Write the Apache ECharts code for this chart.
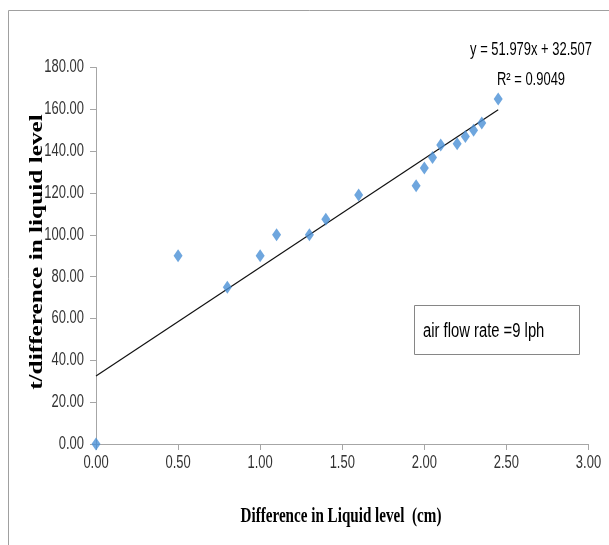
<!DOCTYPE html>
<html>
<head>
<meta charset="utf-8">
<script src="https://cdn.jsdelivr.net/npm/echarts@6/dist/echarts.min.js"></script>
<style>html,body{margin:0;padding:0;background:#fff;}#c{width:609px;height:545px;}</style>
</head>
<body>
<div id="c"></div>
<script>
var xValues = [0, 0.5, 0.8, 1.0, 1.1, 1.3, 1.4, 1.6, 1.95, 2.0, 2.05, 2.1, 2.2, 2.25, 2.3, 2.35, 2.45];
var yValues = [0, 90, 75, 90, 100, 100, 107.5, 119, 123.5, 132, 137, 143, 143.5, 147, 150, 153.5, 165];
var trendSlope = 51.979;
var trendIntercept = 32.507;
var equationText = 'y = 51.979x + 32.507';
var r2Text = 'R² = 0.9049';
var boxText = 'air flow rate =9 lph';
var xTitle = 'Difference in Liquid level  (cm)';
var yTitle = 't/difference in liquid level';

var points = xValues.map(function (x, i) { return [x, yValues[i]]; });
var xMin = Math.min.apply(null, xValues), xMax = Math.max.apply(null, xValues);
var trend = [[xMin, trendSlope * xMin + trendIntercept], [xMax, trendSlope * xMax + trendIntercept]];

var sans = '"Liberation Sans", Arial, sans-serif';
var chart = echarts.init(document.getElementById('c'), null, {renderer: 'canvas'});
chart.setOption({
  animation: false,
  backgroundColor: '#fff',
  grid: {left: 96, right: 20, top: 67.5, bottom: 101, containLabel: false},
  xAxis: {
    type: 'value', min: 0, max: 3, interval: 0.5,
    axisLine: {show: true, lineStyle: {color: '#A6A6A6', width: 1}},
    axisTick: {show: true, length: 6, lineStyle: {color: '#A6A6A6'}},
    splitLine: {show: false},
    axisLabel: {margin: 10, color: '#333', fontSize: 18, fontFamily: sans,
      formatter: function (v) { return v.toFixed(2); }}
  },
  yAxis: {
    type: 'value', min: 0, max: 180, interval: 20,
    axisLine: {show: true, lineStyle: {color: '#A6A6A6', width: 1}},
    axisTick: {show: true, length: 6, lineStyle: {color: '#A6A6A6'}},
    splitLine: {show: false},
    axisLabel: {margin: 12, color: '#333', fontSize: 18, fontFamily: sans,
      formatter: function (v) { return v.toFixed(2); }}
  },
  series: [
    {
      type: 'line', data: trend, symbol: 'none', silent: true,
      lineStyle: {color: '#111', width: 1.2}, z: 2
    },
    {
      type: 'scatter', data: points, symbol: 'diamond', symbolSize: [9, 13],
      itemStyle: {color: '#4A90D6'}, z: 3
    }
  ],
  graphic: [
    {type: 'rect', shape: {x: 8.5, y: 10.5, width: 700, height: 700},
      style: {fill: 'none', stroke: '#A0A0A0', lineWidth: 1}, silent: true, z: -1},
    {type: 'text', x: 531, y: 50, scaleX: 0.72,
      style: {text: equationText, font: '18px ' + sans, fill: '#000', textAlign: 'center', textVerticalAlign: 'middle'}},
    {type: 'text', x: 531, y: 80, scaleX: 0.72,
      style: {text: r2Text, font: '18px ' + sans, fill: '#000', textAlign: 'center', textVerticalAlign: 'middle'}},
    {type: 'rect', shape: {x: 414.5, y: 305.5, width: 165, height: 49},
      style: {fill: '#fff', stroke: '#868686', lineWidth: 1}},
    {type: 'text', x: 423, y: 331, scaleX: 0.74,
      style: {text: boxText, font: '20px ' + sans, fill: '#000', textAlign: 'left', textVerticalAlign: 'middle'}},
    {type: 'text', x: 341, y: 517, scaleX: 0.72, scaleY: 1,
      style: {text: xTitle, font: 'bold 21px "Liberation Serif", "Times New Roman", serif', fill: '#000',
      textAlign: 'center', textVerticalAlign: 'middle'}},
    {type: 'text', x: 37, y: 252, rotation: Math.PI / 2, scaleX: 1.15, scaleY: 0.82,
      style: {text: yTitle, font: 'bold 22px "Liberation Serif", "Times New Roman", serif', fill: '#000',
      textAlign: 'center', textVerticalAlign: 'middle'}}
  ]
});
// condense the axis tick labels horizontally, like the narrow font of the reference
(function () {
  var zr = chart.getZr();
  var re = /^\d+\.\d\d$/;
  zr.storage.getRoots().forEach(function (root) {
    var visit = function (el) {
      if (el.style && typeof el.style.text !== 'undefined' && re.test(String(el.style.text)) && el.type !== 'tspan') {
        el.scaleX = 0.72;
        el.markRedraw && el.markRedraw();
      }
    };
    visit(root);
    if (root.traverse) root.traverse(visit);
  });
  zr.refreshImmediately();
})();
</script>
</body>
</html>
